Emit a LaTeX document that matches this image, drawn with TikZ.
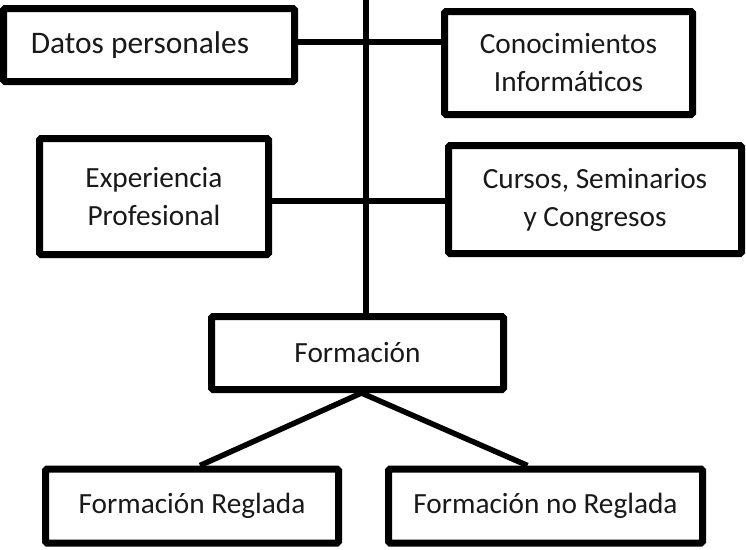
\documentclass[tikz,border=0pt]{standalone}
\usepackage{fontspec}
\setmainfont{Carlito}
\begin{document}
\begin{tikzpicture}[x=1pt,y=-1pt,
  box/.style={draw=black, line width=7pt, fill=white, rounded corners=1.5pt,
    align=center, inner sep=0pt, text=black!90, font=\fontsize{29.3}{38}\selectfont},
  conn/.style={draw=black, line width=5.5pt}]
\useasboundingbox (0,0) rectangle (746,549);
\node[box, minimum width=291pt, minimum height=73pt, font=\fontsize{31.4}{38}\selectfont] (datos) at (149,45) {Datos personales\hspace{18pt}};
\node[box, minimum width=248pt, minimum height=103pt] (conoc) at (568.5,63) {Conocimientos\\Informáticos};
\node[box, minimum width=229pt, minimum height=116pt] (exper) at (154,196.5) {Experiencia\\Profesional};
\node[box, minimum width=293pt, minimum height=108pt] (cursos) at (595,199.5) {Cursos, Seminarios\\y Congresos};
\node[box, minimum width=292pt, minimum height=73pt] (form) at (357.5,353) {Formación};
\node[box, minimum width=293pt, minimum height=74pt] (regl) at (192,506) {Formación Reglada};
\node[box, minimum width=314pt, minimum height=74pt] (noregl) at (545.5,506) {Formación no Reglada};
\coordinate (top) at (366,0);
\draw[conn] (top) -- (top |- form.north);
\draw[conn] ([yshift=3pt]datos.east) -- ([yshift=3pt]datos.east -| conoc.west);
\draw[conn] ([yshift=-4.5pt]exper.east) -- ([yshift=-4.5pt]exper.east -| cursos.west);
\draw[conn] ([xshift=4pt]form.south) -- ([xshift=8pt]regl.north);
\draw[conn] ([xshift=4pt]form.south) -- ([xshift=-18pt]noregl.north);
\end{tikzpicture}
\end{document}
